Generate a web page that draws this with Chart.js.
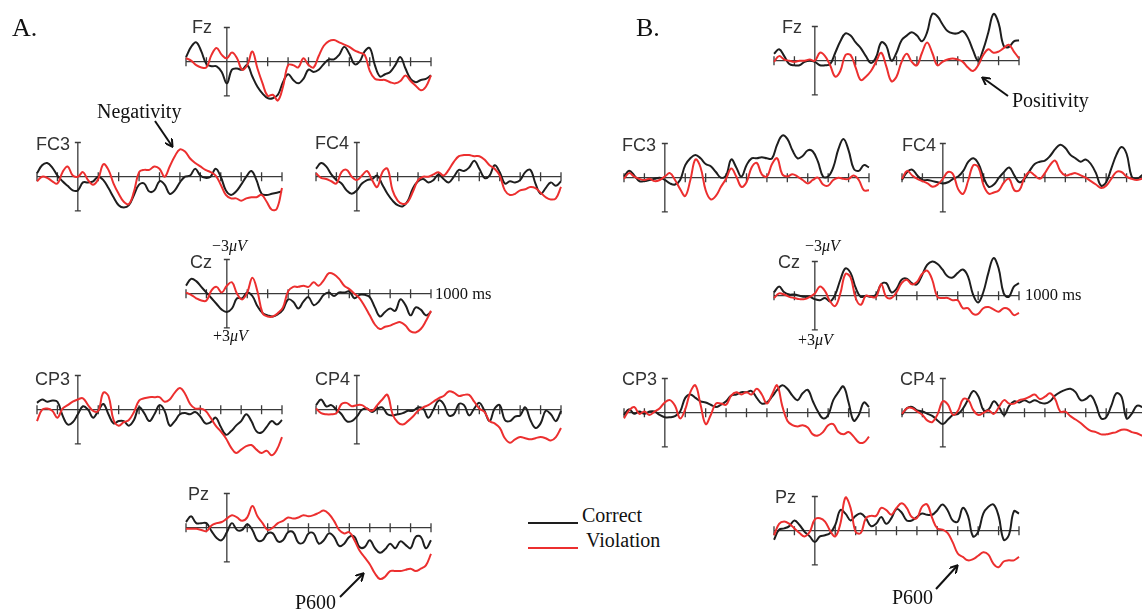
<!DOCTYPE html>
<html>
<head>
<meta charset="utf-8">
<script src="https://cdn.jsdelivr.net/npm/chart.js@4.4.0/dist/chart.umd.min.js"></script>
<style>
html, body { margin: 0; padding: 0; background: #fff; }
body { width: 1142px; height: 613px; position: relative; overflow: hidden; }
canvas.erp { position: absolute; }
.t { position: absolute; white-space: nowrap; line-height: 1; }
.sans { font-family: "Liberation Sans", Arial, sans-serif; color: #333; }
.serif { font-family: "Liberation Serif", "Times New Roman", serif; color: #111; }
.leg { position: absolute; }
#arrows { position: absolute; left: 0; top: 0; }
</style>
</head>
<body>
<svg id="arrows" width="1142" height="613">
  <defs>
    <marker id="head" markerWidth="9" markerHeight="9" refX="7" refY="4.5" orient="auto" markerUnits="userSpaceOnUse">
      <path d="M0,0 L8,4.5 L0,9" fill="none" stroke="#111" stroke-width="2"/>
    </marker>
  </defs>
  <line x1="155" y1="121" x2="172" y2="146" stroke="#111" stroke-width="2" marker-end="url(#head)"/>
  <line x1="1008" y1="96" x2="983" y2="78" stroke="#111" stroke-width="2" marker-end="url(#head)"/>
  <line x1="340" y1="597" x2="363" y2="574" stroke="#111" stroke-width="2" marker-end="url(#head)"/>
  <line x1="936" y1="589" x2="957" y2="566" stroke="#111" stroke-width="2" marker-end="url(#head)"/>
</svg>
<script>
// time points in ms (every 25 ms, -200 .. 1000)
const times = [-200,-175,-150,-125,-100,-75,-50,-25,0,25,50,75,100,125,150,175,200,225,250,275,300,325,350,375,400,425,450,475,500,525,550,575,600,625,650,675,700,725,750,775,800,825,850,875,900,925,950,975,1000];
const tickTimes = [-200,-100,0,100,200,300,400,500,600,700,800,900,1000];

// values in microvolts (negative plotted up)
// A.
const aFzCorrect = [-0.4,-1.3,-1.7,-0.9,0.2,0.4,0.4,0.9,1.9,0.7,0.6,0.7,0.3,1.3,2.2,2.8,3.2,3.2,2.9,1.8,1.1,1.6,1.9,1.5,0.7,0.9,0.7,0.2,-0.2,-0.2,-0.6,-1.3,-0.7,0.2,0,-0.9,-1.2,0.3,1.3,1.1,0.9,0.3,-0.4,0.6,1.5,1.8,1.6,1.5,1.2];
const aFzViolation = [-0.3,-0.1,0.3,0.5,0.5,-0.6,-1.2,-0.6,-0.3,-0.8,-0.3,0.7,0.3,-0.9,0.6,1.9,3.0,2.9,3.4,2.2,0.3,0.3,0.5,-0.3,0.3,0.5,-0.5,-1.4,-1.8,-1.9,-1.7,-1.5,-1.3,-1.0,-0.8,-0.6,0.8,1.5,1.6,1.6,1.8,1.9,1.7,1.2,1.7,2.1,2.5,2.2,1.2];
const aFC3Correct = [-0.3,-1.0,-1.2,-0.8,-0.1,0.4,0.8,1.2,1.2,0.5,0.5,0.4,0,0.3,1.0,1.8,2.5,2.7,2.5,1.6,0.7,0.6,1.3,1.2,0.4,0.7,1.5,1.2,0.5,0,-0.1,-0.7,-0.1,0.1,0,-0.7,0,1.2,1.6,1.3,0.7,0,-0.5,0.3,1.5,1.6,1.5,1.4,1.3];
const aFC3Violation = [0.4,0,0.1,0.4,0.6,-0.4,-0.9,-0.1,0,-0.4,0.3,0.7,0.2,-1.1,-0.6,0.6,1.5,2.2,2.4,1.3,-0.4,-0.6,-0.6,-0.9,-0.7,0,-0.9,-1.8,-2.4,-2.2,-1.6,-1.2,-0.9,-0.6,-0.4,-0.1,0.7,1.6,1.9,1.9,2.1,1.9,1.8,1.8,1.6,2.2,2.9,2.8,1.0];
const aFC4Correct = [-0.7,-1.2,-0.9,-0.2,0.3,0.6,1.2,1.5,1.2,0.6,0.3,0.2,-0.1,0.7,1.5,2.1,2.5,2.6,2.1,1.0,0.4,0.2,0.5,0.3,-0.2,0.2,0.5,0,-0.6,-0.5,-0.8,-1.4,-0.7,0.1,-0.1,-1.0,-0.4,0.6,0.4,0.5,0.3,-0.4,-0.6,0.6,1.5,1.0,0.5,0.8,0.4];
const aFC4Violation = [-0.3,0.1,0.2,0.4,0.6,-0.4,-0.6,0,0.3,-0.1,-0.5,0.3,0.9,-0.4,-0.7,1.2,2.1,2.4,2.2,1.3,0.3,0,0,-0.2,-0.4,-0.1,-0.6,-1.3,-1.8,-1.9,-1.9,-1.8,-1.8,-1.5,-1.0,-0.7,-0.1,1.2,1.6,1.5,1.2,1.1,0.9,1.0,1.4,1.8,2.0,1.9,0.9];
const aCzCorrect = [-0.7,-1.3,-1.1,-0.6,-0.1,0.4,0.9,1.4,1.6,1.3,0.4,0.4,-0.1,0.2,1.1,1.7,1.9,2.0,1.8,1.4,0.5,0.7,1.3,0.7,0.3,1.0,0.7,0.1,-0.1,0.2,-0.1,-0.1,-0.2,0.4,0.1,0.1,0.3,1.2,2.0,1.6,1.3,1.5,0.5,1.0,1.9,1.2,1.4,1.9,1.6];
const aCzViolation = [-0.1,0.1,0.4,0.6,0.6,-0.3,-0.6,-0.1,-0.7,-1.0,0,0.5,-0.1,-1.4,-0.2,1.7,2.0,2.0,1.7,1.2,-0.2,-0.6,-0.6,-0.7,-0.6,-1.0,-0.7,-1.2,-1.8,-1.7,-1.3,-0.7,-0.4,0,0.4,1.1,1.9,2.7,3.1,2.9,2.8,2.6,2.5,2.8,3.3,3.4,3.1,2.4,1.5];
const aCP3Correct = [-0.6,-0.9,-0.7,-0.8,-0.7,0.5,1.3,1.1,0.4,-0.3,0,0.7,0.1,-0.5,0.4,1.2,1.0,1.0,1.4,0.9,-0.2,0.3,1.0,0.4,-0.4,0.1,1.4,1.0,0.4,0.3,0.4,0.2,0.6,1.2,1.1,0.7,1.5,2.2,1.9,1.4,1.0,0.4,1.0,1.9,2.0,1.5,1.0,1.3,0.9];
const aCP3Violation = [1.0,0,-0.1,0.1,0.7,-0.1,-0.4,-0.7,-0.9,-1.0,-0.4,0.1,0.1,-1.5,-1.2,0.9,1.4,1.1,0.9,0.2,-0.8,-1.0,-1.1,-1.1,-1.1,-0.7,-0.9,-1.5,-1.9,-1.4,-0.5,-0.1,-0.1,0.1,0.7,1.4,1.9,2.5,3.3,3.8,3.5,3.2,3.1,3.5,3.8,3.6,4.0,3.5,2.4];
const aCP4Correct = [-0.4,-0.9,-0.3,-0.4,0,0.4,1.0,1.0,0.6,0,-0.1,0.2,-0.1,-0.2,0.4,0.5,0.4,0.3,0.1,0.1,-0.2,-0.1,0.7,0,-0.8,-0.5,0.5,0.4,-0.5,-0.4,0.5,-0.1,-0.6,0.1,1.0,-0.1,-0.4,0.9,1.0,0.6,0.5,-0.2,0.9,1.6,1.2,0.1,0.4,1.0,0.1];
const aCP4Violation = [-0.1,0.3,0.4,0.4,0.3,-0.5,-0.6,-0.3,-0.4,-0.4,-0.1,0.1,-0.4,-0.9,-1.3,0.4,1.1,1.3,1.0,0.6,0.1,-0.2,-0.4,-0.7,-1.0,-1.2,-1.6,-1.5,-1.2,-1.3,-1.3,-0.7,-0.1,0.2,1.0,1.2,1.6,2.5,2.9,2.6,2.4,2.5,2.6,2.5,2.4,2.5,2.7,2.4,1.6];
const aPzCorrect = [-0.5,-1.0,-0.4,-0.4,-0.4,0.3,0.9,1.1,0.4,-0.4,0.2,0.2,-0.3,0.2,1.1,1.1,0.5,0.5,1.2,1.1,0.4,0.4,1.3,1.3,0.5,0.5,1.4,1.1,0.5,0.8,1.6,1.4,0.8,0.8,1.7,1.7,1.1,1.8,2.2,1.9,1.4,1.8,1.2,1.5,1.8,0.8,0.8,1.8,1.1];
const aPzViolation = [0.1,0.1,0.1,0.2,0.3,-0.2,-0.4,-0.5,-0.8,-1.1,-0.9,-0.6,-0.9,-1.9,-1.0,-0.4,0.2,0,-0.4,-0.6,-0.9,-0.8,-0.9,-1.1,-1.0,-1.1,-1.3,-1.5,-1.2,-0.6,0.2,0.5,0.4,1.1,2.0,2.6,3.2,4.0,4.5,4.3,3.8,3.8,3.8,3.7,3.6,3.8,3.6,3.3,2.3];
// B.
const bFzCorrect = [-0.6,-1.0,-0.4,0.3,0.4,0.4,0.1,0,0.1,0.4,0.4,0.3,-0.7,-1.7,-2.4,-2.2,-1.6,-1.1,-0.4,0.2,-0.3,-1.6,-1.3,0,-0.7,-1.8,-2.2,-2.5,-2.2,-1.7,-2.5,-4.1,-3.9,-3.2,-2.6,-2.4,-2.4,-2.6,-2.0,-0.9,0,-1.0,-2.5,-4.1,-3.3,-1.3,-1.2,-1.7,-1.8];
const bFzViolation = [0.1,-0.4,-0.1,0,0.1,0,0,-0.1,0,-0.7,-0.4,0.4,1.4,0.9,-0.5,-0.5,0.6,1.7,1.4,0.9,0.1,-0.7,0.5,1.8,1.4,0.1,-0.6,0.1,0.4,-0.7,-1.6,-0.7,0.4,0.1,-0.1,-0.2,-0.1,0.1,0.6,0.9,0.4,-0.5,-1.0,-0.7,-0.8,-1.1,-1.4,-0.8,-0.2];
const bFC3Correct = [-0.1,-0.6,-0.2,0.3,0.3,0.2,0.1,0,0.2,0.5,0.6,0.2,-1.1,-1.7,-2.0,-1.7,-1.2,-1.0,-0.5,0,-0.2,-1.6,-0.9,-0.1,-1.1,-1.7,-1.7,-1.8,-1.7,-1.7,-2.9,-3.7,-3.4,-2.4,-1.7,-1.9,-2.4,-2.3,-1.4,-0.1,-0.1,-0.9,-2.5,-3.4,-2.4,-0.8,-0.6,-1.1,-0.9];
const bFC3Violation = [0.1,-0.4,-0.1,0.1,0.2,0.1,0.3,0.2,-0.1,-0.4,0.2,1.0,1.6,0.2,-1.6,-0.9,1.1,1.9,1.6,0.8,0.1,-0.8,-0.1,0.8,0.4,-0.9,-1.3,-0.3,-0.1,-1.2,-1.7,-0.3,-0.1,-0.3,-0.1,0.2,0.5,0.2,0,0.6,0.7,0.2,0,0.1,0.1,-0.2,0.2,1.1,1.1];
const bFC4Correct = [0.2,-0.5,-0.7,-0.2,0.2,0.2,0.3,0.4,0.5,0.4,0.1,-0.1,-0.6,-1.4,-1.7,-1.2,0,0.8,0.6,0,-0.5,-0.9,-0.2,0.4,0.1,-0.6,-1.2,-1.4,-1.5,-1.9,-2.5,-2.9,-2.6,-2.0,-1.7,-1.4,-1.6,-1.2,-0.4,0.7,0.4,-0.8,-2.0,-2.7,-2.1,-0.1,0.1,-0.2,-0.5];
const bFC4Violation = [0.1,-0.6,-0.2,0.1,0.3,0.5,0.8,0.6,0.1,-0.5,-0.3,1.0,1.4,0.2,-1.1,-0.9,0.7,1.4,1.3,1.1,0.4,0.1,1.1,1.1,0,-0.5,-0.2,0.1,-0.4,-1.1,-1.5,-0.6,-0.2,-0.3,-0.4,-0.2,0,0.3,0.6,0.9,0.7,0.1,-0.5,-0.5,-0.1,0.1,0.2,0.1,0];
const bCzCorrect = [-0.3,-0.8,-0.3,-0.1,-0.1,0,0.1,0.1,0.3,0.4,0.2,0.5,-0.1,-1.4,-2.4,-2.0,-0.7,0.1,0,0.1,-0.1,-1.0,-1.1,-0.3,-0.6,-1.4,-1.5,-1.1,-1.0,-1.8,-2.7,-3.0,-2.8,-2.3,-1.7,-1.6,-2.0,-2.3,-1.7,-0.1,0.6,-0.3,-2.0,-3.3,-2.4,-0.2,0.1,-0.8,-1.1];
const bCzViolation = [0.2,-0.2,-0.1,0.1,0.2,0.3,0.3,0.1,-0.2,-0.8,-0.4,0.5,0.9,-0.2,-1.9,-1.6,0.2,0.8,0,0.1,0.1,-1.0,0.1,0.2,-0.3,-1.1,-1.4,-1.0,-1.2,-1.9,-2.2,-1.4,0.1,0.2,0.2,0.4,0.4,1.1,1.1,1.6,1.6,1.1,1.0,1.2,1.4,1.1,1.2,1.7,1.5];
const bCP3Correct = [0.2,-0.3,0.1,-0.1,0.1,-0.1,-0.1,0.2,0.4,0.4,0.3,-0.1,-1.3,-1.6,-1.3,-1.0,-0.9,-0.7,-0.5,-0.7,-1.0,-1.5,-1.6,-1.8,-1.8,-1.9,-1.3,-0.8,-0.9,-1.4,-2.0,-2.4,-2.1,-1.5,-1.1,-1.7,-2.0,-1.0,-0.1,0.5,0.2,-1.1,-1.8,-2.3,-0.9,0.7,0.2,-0.9,-0.5];
const bCP3Violation = [0.5,-0.2,-0.5,0.1,-0.1,0.2,-0.1,-0.4,-0.9,-1.1,-0.6,0.5,-0.3,-1.8,-2.4,-0.7,1.0,0.2,-0.8,-0.8,-0.7,-1.5,-1.8,-1.6,-1.8,-1.6,-2.1,-1.6,-0.8,-1.6,-2.4,-0.6,0.7,1.1,1.2,1.1,1.3,1.9,2.0,1.7,1.1,1.0,1.7,1.9,1.7,2.1,2.6,2.6,2.1];
const bCP4Correct = [0.2,-0.4,-0.5,-0.2,-0.1,0.1,0.3,0.7,1.0,0.6,0.2,0.1,-0.4,-1.2,-1.9,-1.4,-0.2,-0.3,-1.0,-0.5,0.2,-0.6,-1.0,-0.9,-1.1,-0.9,-1.1,-0.9,-0.8,-1.0,-1.5,-1.8,-2.0,-2.1,-1.8,-1.1,-1.2,-1.5,-0.7,0.5,0.4,-0.6,-1.7,-1.4,0.5,0.1,-0.6,-0.5,-0.1];
const bCP4Violation = [0.1,-0.4,-0.4,-0.1,0.2,0.7,0.8,0.1,-1.0,-0.7,0.2,-0.2,-1.2,-1.1,-0.2,0.2,0,-0.2,0.1,-0.5,-1.1,-0.8,-0.8,-1.1,-1.2,-1.4,-1.6,-1.2,-1.4,-1.7,-1.2,-0.1,-0.1,0.3,0.6,0.9,1.3,1.6,1.7,1.9,1.9,1.8,1.7,1.5,1.5,1.7,1.8,2.0,2.1];
const bPzCorrect = [0.8,-0.1,-0.2,-0.4,-0.9,-0.5,0.1,0.5,1.0,0.5,0.4,0.2,-0.5,-1.8,-1.5,-0.9,-1.3,-1.5,-1.1,-0.4,-0.6,-1.2,-0.6,-1.1,-1.9,-1.6,-0.9,-0.9,-1.2,-1.5,-1.4,-1.4,-1.8,-2.3,-1.8,-0.9,-0.8,-2.0,-1.3,0.5,0.1,-1.5,-2.1,-2.3,-1.3,0.8,0.4,-1.7,-1.5];
const bPzViolation = [0.4,-0.6,-0.8,-0.6,-0.2,0.2,0.5,0.1,-1.0,-1.1,-0.8,0,0.5,-0.6,-2.9,-2.0,0.1,0.2,-1.1,-1.3,-1.3,-2.0,-1.8,-1.4,-2.0,-2.4,-2.0,-1.2,-1.1,-2.1,-2.3,-1.1,-0.2,-0.1,0.2,1.0,2.0,2.3,2.6,2.5,2.2,1.9,2.1,2.9,3.2,2.7,2.6,2.6,2.3];

const PX_PER_UV = 11.4;
const Y_TOP = -5.5;
const PLOT_W = 245;
const PAD = 4;
const CANVAS_H = 137;

const panels = [
  { name: 'Fz',  left: 185.7, base: 61.7,  lx: 192, ly: 33,  correct: aFzCorrect,  violation: aFzViolation },
  { name: 'FC3', left: 36.7,  base: 176.7, lx: 36,  ly: 150, correct: aFC3Correct, violation: aFC3Violation },
  { name: 'FC4', left: 316,   base: 176.7, lx: 315, ly: 149, correct: aFC4Correct, violation: aFC4Violation },
  { name: 'Cz',  left: 185.7, base: 293.3, lx: 190, ly: 268, correct: aCzCorrect,  violation: aCzViolation },
  { name: 'CP3', left: 36.7,  base: 410,   lx: 35,  ly: 385, correct: aCP3Correct, violation: aCP3Violation },
  { name: 'CP4', left: 316,   base: 410,   lx: 315, ly: 385, correct: aCP4Correct, violation: aCP4Violation },
  { name: 'Pz',  left: 185.7, base: 527.3, lx: 188, ly: 500, correct: aPzCorrect,  violation: aPzViolation },
  { name: 'Fz',  left: 774.3, base: 61,    lx: 782, ly: 33,  correct: bFzCorrect,  violation: bFzViolation },
  { name: 'FC3', left: 624,   base: 177.3, lx: 622, ly: 151, correct: bFC3Correct, violation: bFC3Violation },
  { name: 'FC4', left: 902.3, base: 177.3, lx: 902, ly: 151, correct: bFC4Correct, violation: bFC4Violation },
  { name: 'Cz',  left: 774.3, base: 296,   lx: 778, ly: 268, correct: bCzCorrect,  violation: bCzViolation },
  { name: 'CP3', left: 624,   base: 412.3, lx: 622, ly: 385, correct: bCP3Correct, violation: bCP3Violation },
  { name: 'CP4', left: 902.3, base: 412.3, lx: 900, ly: 385, correct: bCP4Correct, violation: bCP4Violation },
  { name: 'Pz',  left: 774.3, base: 530.7, lx: 775, ly: 503, correct: bPzCorrect,  violation: bPzViolation }
];

// draws the time axis with ticks and the -3..+3 uV bar at 0 ms
const erpAxes = {
  id: 'erpAxes',
  beforeDatasetsDraw(chart) {
    const { ctx, scales: { x, y } } = chart;
    const y0 = y.getPixelForValue(0);
    const xa = x.getPixelForValue(0);
    ctx.save();
    ctx.strokeStyle = '#3a3a3a';
    ctx.lineWidth = 1.3;
    ctx.beginPath();
    ctx.moveTo(x.getPixelForValue(tickTimes[0]), y0);
    ctx.lineTo(x.getPixelForValue(tickTimes[tickTimes.length - 1]), y0);
    tickTimes.forEach(t => {
      const px = x.getPixelForValue(t);
      ctx.moveTo(px, y0 - 4.5);
      ctx.lineTo(px, y0 + 4.5);
    });
    ctx.moveTo(xa, y.getPixelForValue(-3));
    ctx.lineTo(xa, y.getPixelForValue(3));
    [-3, 3].forEach(v => {
      const py = y.getPixelForValue(v);
      ctx.moveTo(xa - 3, py);
      ctx.lineTo(xa + 3, py);
    });
    ctx.stroke();
    ctx.restore();
  }
};

function addText(html, cls, x, baseline, size, extra) {
  const d = document.createElement('div');
  d.className = 't ' + cls;
  d.innerHTML = html;
  d.style.left = x + 'px';
  d.style.top = (baseline - 0.84 * size) + 'px';
  d.style.fontSize = size + 'px';
  if (extra) Object.assign(d.style, extra);
  document.body.appendChild(d);
  return d;
}

function toPoints(values) {
  return values.map((v, i) => ({ x: times[i], y: v }));
}

function makePanel(p) {
  const canvas = document.createElement('canvas');
  canvas.className = 'erp';
  canvas.width = PLOT_W + 2 * PAD;
  canvas.height = CANVAS_H;
  canvas.style.left = (p.left - PAD) + 'px';
  canvas.style.top = (p.base + Y_TOP * PX_PER_UV) + 'px';
  document.body.appendChild(canvas);

  new Chart(canvas, {
    type: 'line',
    data: {
      datasets: [
        { label: 'Violation', data: toPoints(p.violation), borderColor: '#ec2f2f', borderWidth: 2, order: 0 },
        { label: 'Correct', data: toPoints(p.correct), borderColor: '#1e1e1e', borderWidth: 2, order: 1 }
      ]
    },
    options: {
      responsive: false,
      animation: false,
      devicePixelRatio: 1,
      events: [],
      layout: { padding: { left: PAD, right: PAD, top: 0, bottom: 0 } },
      elements: { point: { radius: 0 }, line: { tension: 0.4, fill: false } },
      datasets: { line: { clip: false } },
      plugins: { legend: { display: false }, tooltip: { enabled: false } },
      scales: {
        x: { type: 'linear', min: -200, max: 1000, display: false },
        y: { min: Y_TOP, max: Y_TOP + CANVAS_H / PX_PER_UV, reverse: true, display: false }
      }
    },
    plugins: [erpAxes]
  });

  addText(p.name, 'sans', p.lx, p.ly, 18);
}

panels.forEach(makePanel);

// panel letters
addText('A.', 'serif', 12, 37, 26);
addText('B.', 'serif', 636, 37, 26);

// scale labels
addText('&minus;3<i>&mu;V</i>', 'serif', 212, 251, 16);
addText('+3<i>&mu;V</i>', 'serif', 213, 341, 16);
addText('1000 ms', 'serif', 435, 300, 16.5);
addText('&minus;3<i>&mu;V</i>', 'serif', 805, 251, 16);
addText('+3<i>&mu;V</i>', 'serif', 798, 345, 16);
addText('1000 ms', 'serif', 1025, 301, 16.5);

// annotations
addText('Negativity', 'serif', 97, 118, 20);
addText('Positivity', 'serif', 1012, 107, 20);
addText('P600', 'serif', 295, 609, 20);
addText('P600', 'serif', 892, 604, 20);

// legend
const legendItems = [
  { label: 'Correct', color: '#1e1e1e', y: 523, tx: 582 },
  { label: 'Violation', color: '#ec2f2f', y: 548, tx: 586 }
];
legendItems.forEach(item => {
  const line = document.createElement('div');
  line.className = 'leg';
  Object.assign(line.style, { left: '528px', top: (item.y - 1) + 'px', width: '50px', height: '1.6px', background: item.color });
  document.body.appendChild(line);
  addText(item.label, 'serif', item.tx, item.y - 1, 20);
});
</script>
</body>
</html>
